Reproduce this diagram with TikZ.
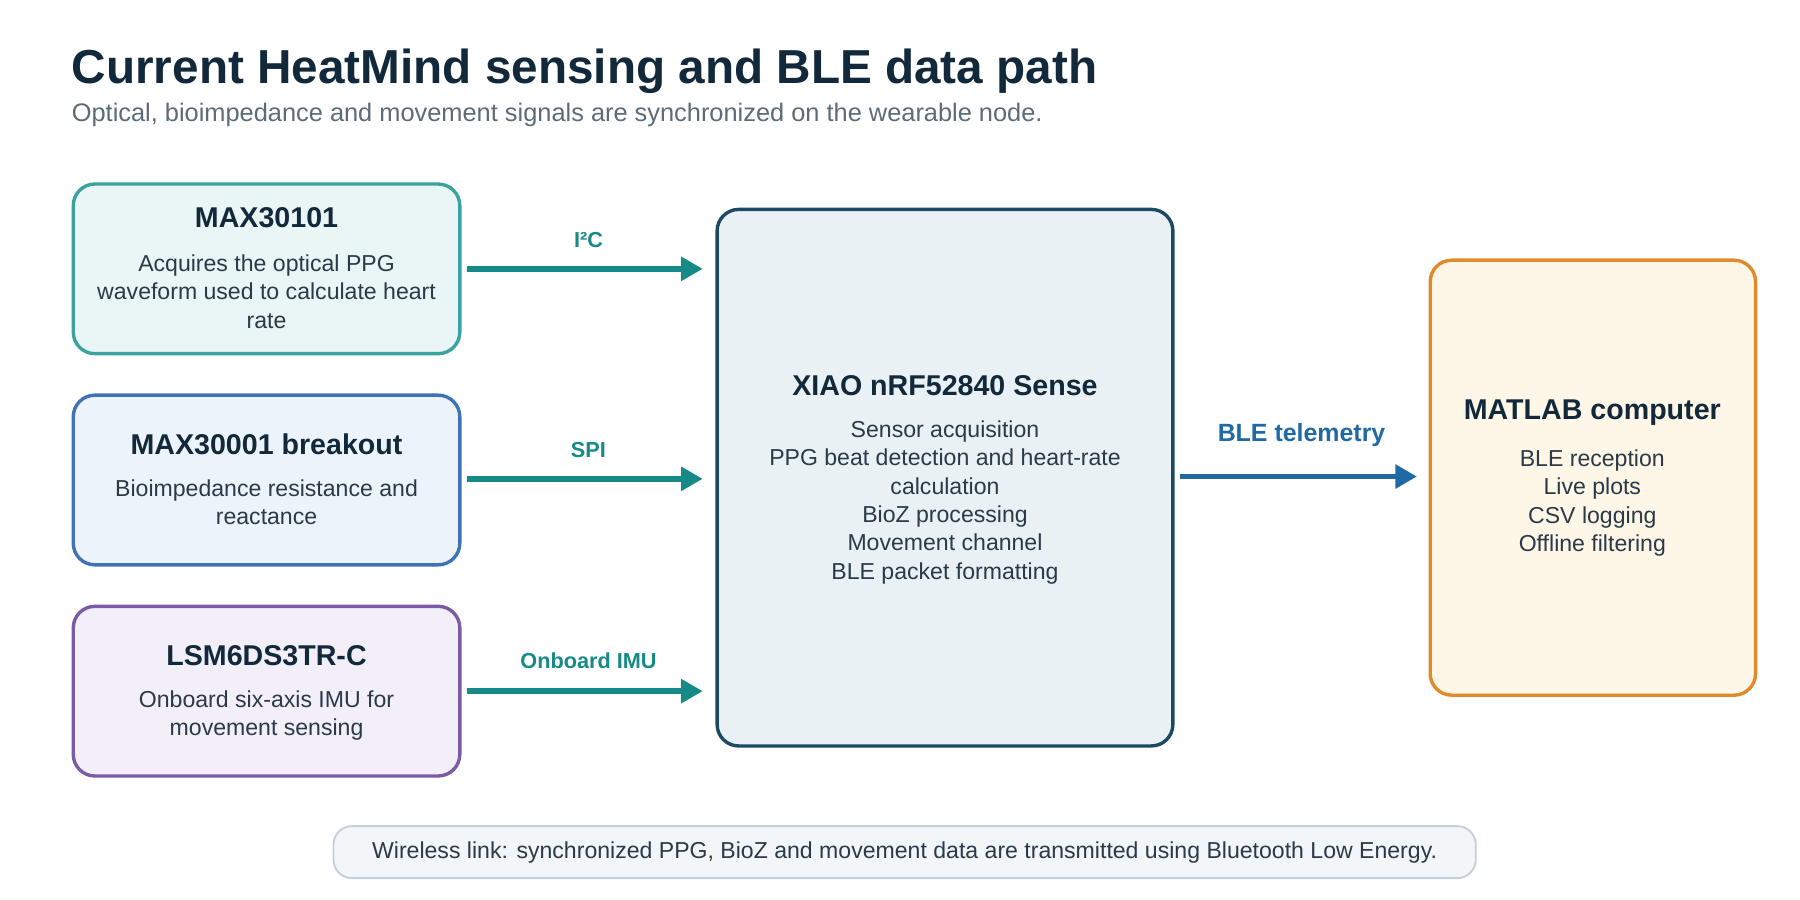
\documentclass[tikz,border=0pt]{standalone}
\usepackage{fontspec}
\setmainfont{Liberation Sans}
\usetikzlibrary{arrows.meta}
\definecolor{ink}{HTML}{12293B}
\definecolor{sub}{HTML}{5B6B78}
\definecolor{body}{HTML}{2A3A48}
\definecolor{tealA}{HTML}{168A86}
\definecolor{bleA}{HTML}{1F6AA5}
\begin{document}
\begin{tikzpicture}[x=0.75pt,y=-0.75pt,
  box/.style={draw,line width=2.2pt,rounded corners=14pt,anchor=north west,inner sep=0pt,outer sep=0pt},
  ttl/.style={font=\fontsize{18.6}{20}\selectfont\bfseries,text=ink},
  txt/.style={font=\fontsize{15}{18.4}\selectfont,text=body,align=center},
  arr/.style={line width=3.8pt,-{Triangle[length=14pt,width=15pt]}},
  lbl/.style={font=\fontsize{14.1}{15}\selectfont\bfseries}]
\useasboundingbox (0,0) rectangle (1560,780);
\node[anchor=base west,inner sep=0pt,font=\fontsize{31}{34}\selectfont\bfseries,text=ink] (title) at (62,72) {Current HeatMind sensing and BLE data path};
\node[anchor=base west,inner sep=0pt,font=\fontsize{16.5}{18}\selectfont,text=sub] (subt) at (62,105) {Optical, bioimpedance and movement signals are synchronized on the wearable node.};
% boxes
\node[box,draw={rgb,255:red,58;green,163;blue,159},fill={rgb,255:red,234;green,246;blue,245},minimum width=335*0.75pt,minimum height=147*0.75pt] (b1) at (63.5,159.5) {};
\node[box,draw={rgb,255:red,63;green,114;blue,184},fill={rgb,255:red,237;green,243;blue,251},minimum width=335*0.75pt,minimum height=147*0.75pt] (b2) at (63.5,342.5) {};
\node[box,draw={rgb,255:red,123;green,90;blue,166},fill={rgb,255:red,243;green,239;blue,249},minimum width=335*0.75pt,minimum height=147*0.75pt] (b3) at (63.5,525.5) {};
\node[box,draw={rgb,255:red,28;green,74;blue,99},fill={rgb,255:red,233;green,241;blue,245},minimum width=395*0.75pt,minimum height=465*0.75pt] (c) at (621.5,181.5) {};
\node[box,draw={rgb,255:red,224;green,138;blue,44},fill={rgb,255:red,254;green,246;blue,230},minimum width=282*0.75pt,minimum height=377*0.75pt] (m) at (1239.5,225.5) {};
\node[draw={rgb,255:red,195;green,207;blue,218},line width=1.2pt,fill={rgb,255:red,242;green,246;blue,249},rounded corners=12pt,outer sep=0pt,minimum width=990*0.75pt,minimum height=45*0.75pt,font=\fontsize{15}{16}\selectfont,text=body] (f) at (784,738.5) {Wireless link: synchronized PPG, BioZ and movement data are transmitted using Bluetooth Low Energy.};
% box texts
\node[ttl] (t1) at (231,189) {MAX30101};
\node[txt,anchor=north] (d1) at (231,216) {Acquires the optical PPG\\waveform used to calculate heart\\rate};
\node[ttl] (t2) at (231,385) {MAX30001 breakout};
\node[txt,anchor=north] (d2) at (231,411) {Bioimpedance resistance and\\reactance};
\node[ttl] (t3) at (231,568) {LSM6DS3TR-C};
\node[txt,anchor=north] (d3) at (231,594) {Onboard six-axis IMU for\\movement sensing};
\node[ttl] (tc) at (819,334) {XIAO nRF52840 Sense};
\node[txt,anchor=north] (dc) at (819,360) {Sensor acquisition\\PPG beat detection and heart-rate\\calculation\\BioZ processing\\Movement channel\\BLE packet formatting};
\node[ttl] (tm) at (1380,358) {MATLAB computer};
\node[txt,anchor=north] (dm) at (1380,385) {BLE reception\\Live plots\\CSV logging\\Offline filtering};
% arrows
\coordinate (a1s) at (405,233); \coordinate (a1e) at (609,233);
\coordinate (a2s) at (405,415); \coordinate (a2e) at (609,415);
\coordinate (a3s) at (405,599); \coordinate (a3e) at (609,599);
\coordinate (a4s) at (1023,413); \coordinate (a4e) at (1228,413);
\draw[arr,draw=tealA,fill=tealA] (a1s) -- (a1e);
\draw[arr,draw=tealA,fill=tealA] (a2s) -- (a2e);
\draw[arr,draw=tealA,fill=tealA] (a3s) -- (a3e);
\draw[arr,draw=bleA,fill=bleA] (a4s) -- (a4e);
\node[lbl,text=tealA] (l1) at (510,208) {I²C};
\node[lbl,text=tealA] (l2) at (510,390) {SPI};
\node[lbl,text=tealA] (l3) at (510,573) {Onboard IMU};
\node[lbl,text=bleA,font=\fontsize{16.2}{17}\selectfont\bfseries] (l4) at (1128,377) {BLE telemetry};
\end{tikzpicture}
\end{document}
